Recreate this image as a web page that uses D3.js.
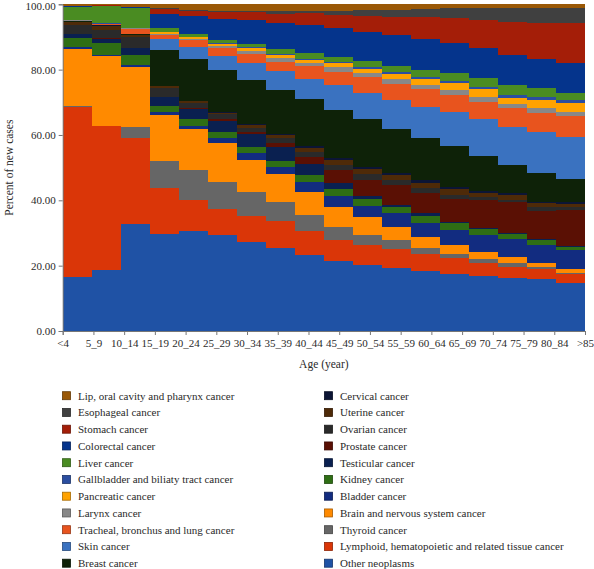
<!DOCTYPE html>
<html>
<head>
<meta charset="utf-8">
<script src="https://cdn.jsdelivr.net/npm/d3@7"></script>
<style>
  html, body { margin: 0; padding: 0; background: #fff; }
  svg { display: block; }
  text { font-family: "Liberation Serif", "DejaVu Serif", serif; fill: #2a2a2a; }
</style>
</head>
<body>
<svg id="chart" width="594" height="569"></svg>
<script>
// ---------------- DATA ----------------
const ageGroups = ["<4","5_9","10_14","15_19","20_24","25_29","30_34","35_39","40_44","45_49","50_54","55_59","60_64","65_69","70_74","75_79","80_84",">85"];

// Legend order (left column then right column)
const legendLeft = ["Lip, oral cavity and pharynx cancer","Esophageal cancer","Stomach cancer","Colorectal cancer","Liver cancer","Gallbladder and biliaty tract cancer","Pancreatic cancer","Larynx cancer","Tracheal, bronchus and lung cancer","Skin cancer","Breast cancer"];
const legendRight = ["Cervical cancer","Uterine cancer","Ovarian cancer","Prostate cancer","Testicular cancer","Kidney cancer","Bladder cancer","Brain and nervous system cancer","Thyroid cancer","Lymphoid, hematopoietic and related tissue cancer","Other neoplasms"];

const colors = ["#9a5806","#404040","#a41e08","#05348c","#4a8c22","#2b4ea0","#ffa200","#888888","#e8541e","#3a72c0","#0e2208",
                "#0c1535","#4e2a08","#2a2a2a","#5a1004","#0a2050","#2e6e14","#122c80","#ff8a00","#666666","#da3608","#1f52a5"];

// Percent of new cases per age group (one array per cancer)
const lip          = [0.4,0.2,0.7,1.1,1.7,2.0,1.9,2.0,1.9,2.2,1.7,1.7,1.5,1.2,1.2,1.2,1.2,1.2];
const esophageal   = [0.1,0.1,0.1,0.4,0.5,0.5,0.6,0.9,0.8,1.1,1.9,2.3,2.5,3.1,3.6,4.1,4.4,4.6];
const stomach      = [0.1,0.1,0.1,1.4,1.5,2.0,2.4,2.9,3.6,4.0,4.8,5.4,6.7,7.4,8.7,10.2,11.2,12.3];
const colorectal   = [0.1,0.1,0.1,4.4,5.3,6.3,7.1,8.0,8.5,8.9,8.9,9.5,9.4,9.4,9.2,9.2,8.9,9.1];
const liver        = [4.0,5.4,6.2,1.1,0.9,1.0,1.0,1.4,1.8,1.4,1.8,1.7,2.0,2.3,2.7,3.1,2.8,2.1];
const gallbladder  = [0.1,0.1,0.1,0.2,0.2,0.2,0.3,0.3,0.4,0.5,0.8,0.7,0.9,0.8,0.6,0.7,0.8,1.0];
const pancreatic   = [0.1,0.1,0.1,0.4,0.5,0.6,0.8,1.0,1.0,1.0,1.2,1.7,1.7,2.1,2.3,2.0,2.5,2.6];
const larynx       = [0.1,0.1,0.1,0.5,0.4,0.7,1.0,1.0,1.0,1.5,1.2,1.4,1.3,1.5,1.5,1.3,1.4,1.3];
const tracheal     = [0.1,0.1,1.5,1.3,2.0,2.5,2.8,2.8,3.9,4.1,4.9,4.9,5.3,5.1,5.4,5.8,5.8,6.3];
const skin         = [0.1,0.1,0.1,3.1,3.7,4.3,5.1,5.9,6.1,7.6,8.0,9.0,9.7,10.5,11.2,11.5,12.5,13.1];
const breast       = [0.1,0.1,0.2,11.2,12.9,12.8,13.4,13.6,14.2,14.8,14.5,13.4,12.8,12.6,10.6,8.7,8.9,6.8];
const cervical     = [0.2,0.1,0.1,0.1,0.1,0.2,0.3,0.2,0.6,0.6,0.8,0.5,0.8,0.6,0.7,0.5,0.5,0.7];
const uterine      = [1.0,1.2,0.8,0.4,0.4,0.5,0.9,0.8,1.2,1.5,1.4,1.6,1.7,1.8,1.4,1.5,1.0,1.0];
const ovarian      = [2.5,2.7,3.3,2.9,1.7,1.6,1.3,1.7,1.7,1.5,1.9,1.5,1.6,1.3,0.8,0.8,1.3,0.9];
const prostate     = [0.1,0.1,0.1,0.1,0.3,0.4,0.6,1.0,2.0,3.9,4.9,6.1,6.1,6.8,8.7,9.4,8.7,11.0];
const testicular   = [1.3,1.4,2.0,2.6,3.1,3.4,3.9,4.3,3.4,2.0,1.0,0.5,0.8,0.3,0.3,0.2,0.2,0.2];
const kidney       = [2.7,3.6,3.2,2.0,2.0,2.0,2.0,1.8,2.3,2.1,2.0,2.1,2.0,2.3,1.7,1.6,1.6,1.0];
const bladder      = [0.5,0.3,0.5,0.7,1.0,1.5,2.0,2.2,2.8,3.2,3.3,4.3,4.5,4.6,5.1,5.5,5.4,5.9];
const brain        = [17.8,21.6,18.5,14.1,12.4,11.7,10.0,8.8,7.1,6.2,5.6,3.8,3.4,2.7,2.4,1.9,1.4,1.0];
const thyroid      = [0.1,0.1,3.5,8.3,9.2,8.5,7.3,5.8,5.1,4.0,3.1,2.9,1.7,1.4,1.2,1.0,0.6,0.5];
const lymphoid     = [52.3,44.5,26.5,14.1,9.4,7.8,7.9,8.2,7.1,6.5,6.1,5.8,5.1,4.8,3.9,3.6,3.1,2.6];
const other        = [16.6,18.9,32.8,29.9,30.7,29.4,27.1,25.3,23.3,21.4,20.2,19.2,18.5,17.4,16.8,16.1,15.8,14.8];

const yTicks = [0, 0.2, 0.4, 0.6, 0.8, 1.0];

// ------------- BUILD TABLE -------------
const legendNames = legendLeft.concat(legendRight);
const seriesArrays = [lip, esophageal, stomach, colorectal, liver, gallbladder, pancreatic, larynx, tracheal, skin, breast,
                      cervical, uterine, ovarian, prostate, testicular, kidney, bladder, brain, thyroid, lymphoid, other];
const colorOf = {};
legendNames.forEach((n, i) => colorOf[n] = colors[i]);

// stacking order: bottom = Other neoplasms ... top = Lip
const stackKeys = legendNames.slice().reverse();
const rows = ageGroups.map((a, i) => {
  const r = { age: a, idx: i };
  legendNames.forEach((n, k) => r[n] = seriesArrays[k][i]);
  return r;
});

const stacked = d3.stack().keys(stackKeys).offset(d3.stackOffsetExpand)(rows);

// ------------- LAYOUT -------------
const svg = d3.select("#chart");
const plotL = 62.7, plotR = 585, plotT = 4.3, plotB = 331;

const xEdge = d3.scaleLinear().domain([0, ageGroups.length]).range([plotL, plotR]);
const xTick = d3.scalePoint().domain(ageGroups).range([plotL, plotR]);
const y = d3.scaleLinear().domain([0, 1]).range([plotB, plotT]);

const area = d3.area()
  .curve(d3.curveStepAfter)
  .x(d => xEdge(d.pos))
  .y0(d => y(d.v[0]))
  .y1(d => y(d.v[1]));

svg.append("g")
  .selectAll("path")
  .data(stacked)
  .join("path")
  .attr("fill", s => colorOf[s.key])
  .attr("shape-rendering", "crispEdges")
  .attr("d", s => {
    const pts = s.map((v, i) => ({ pos: i, v }));
    pts.push({ pos: ageGroups.length, v: s[s.length - 1] });
    return area(pts);
  });

// y axis
const yAxis = svg.append("g")
  .attr("transform", `translate(${plotL},0)`)
  .call(d3.axisLeft(y).tickValues(yTicks).tickSize(4).tickPadding(3).tickFormat(d => (d * 100).toFixed(2)));
yAxis.selectAll("text").style("font-size", "11px").attr("fill", "#2a2a2a");
yAxis.selectAll(".tick").filter(d => d === 1).select("text").attr("dy", "0.45em");
yAxis.selectAll("line, path").attr("stroke", "#777");

// x axis
const xAxis = svg.append("g")
  .attr("transform", `translate(0,${plotB})`)
  .call(d3.axisBottom(xTick).tickSize(4).tickPadding(4));
xAxis.selectAll("text").style("font-size", "11px").attr("fill", "#2a2a2a");
xAxis.selectAll("line, path").attr("stroke", "#777");

// axis titles
svg.append("text")
  .attr("transform", `translate(13,${(plotT + plotB) / 2}) rotate(-90)`)
  .attr("text-anchor", "middle")
  .style("font-size", "11.5px")
  .text("Percent of new cases");

svg.append("text")
  .attr("x", (plotL + plotR) / 2)
  .attr("y", 368)
  .attr("text-anchor", "middle")
  .style("font-size", "11.5px")
  .text("Age (year)");

// legend
const legY0 = 395.7, legDy = 16.75;
function drawLegend(names, xSq) {
  const g = svg.append("g");
  const item = g.selectAll("g").data(names).join("g")
    .attr("transform", (d, i) => `translate(${xSq},${legY0 + i * legDy})`);
  item.append("rect")
    .attr("x", 0).attr("y", -4).attr("width", 8).attr("height", 8)
    .attr("fill", d => colorOf[d])
    .attr("stroke", d => d3.color(colorOf[d]).darker(1.2))
    .attr("stroke-width", 0.8);
  item.append("text")
    .attr("x", 15.5).attr("y", 4)
    .style("font-size", "11px")
    .attr("fill", "#2a2a2a")
    .text(d => d);
}
drawLegend(legendLeft, 62.5);
drawLegend(legendRight, 324.5);
</script>
</body>
</html>
